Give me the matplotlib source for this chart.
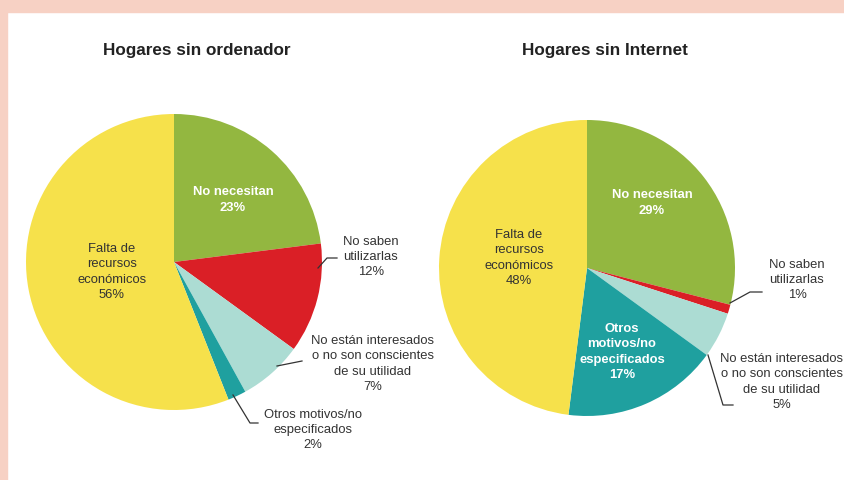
import matplotlib
matplotlib.use("Agg")
import matplotlib.pyplot as plt
from matplotlib.patches import Rectangle

plt.rcParams['font.family'] = ['Liberation Sans', 'DejaVu Sans']

# datos
categorias = ['No necesitan', 'No saben\nutilizarlas',
              'No están interesados\no no son conscientes\nde su utilidad',
              'Otros motivos/no\nespecificados', 'Falta de\nrecursos\neconómicos']
sin_ordenador = [23, 12, 7, 2, 56]
sin_internet = [29, 1, 5, 17, 48]
titulos = ['Hogares sin ordenador', 'Hogares sin Internet']

colores = ['#93B740', '#DA1F26', '#ACDCD3', '#1FA09F', '#F6E14B']
texto = '#333333'

W, H = 845, 480
fig = plt.figure(figsize=(W / 100, H / 100), dpi=100)
fig.patch.set_facecolor('white')
ax = fig.add_axes([0, 0, 1, 1])

def y(py):
    return H - py

# marco rosado
ax.add_patch(Rectangle((0, y(12)), W, 12, color='#F7D1C4', zorder=0))
ax.add_patch(Rectangle((0, 0), 7, H, color='#F7D1C4', zorder=0))

centros = [(174, 262), (587, 268)]
for vals, (cx, cy) in zip([sin_ordenador, sin_internet], centros):
    ax.pie(vals, colors=colores, startangle=90, counterclock=False,
           center=(cx, y(cy)), radius=148,
           wedgeprops=dict(linewidth=0))

ax.set_xlim(0, W)
ax.set_ylim(0, H)
ax.set_aspect('equal')
ax.axis('off')

# títulos
for t, px in zip(titulos, [197, 605]):
    ax.text(px, y(50), t, ha='center', va='center', fontsize=12.3,
            fontweight='bold', color='#222222')

def etiqueta(px, py, s, blanco=False):
    ax.text(px, y(py), s, ha='center', va='center', fontsize=9.4,
            linespacing=1.35, color='white' if blanco else texto,
            fontweight='bold' if blanco else 'normal')

def linea(pts):
    ax.plot([p[0] for p in pts], [y(p[1]) for p in pts], color='#333333',
            linewidth=0.9)

# gráfico 1
etiqueta(233, 200, f'{categorias[0]}\n{sin_ordenador[0]}%', blanco=True)
etiqueta(112, 272, f'{categorias[4]}\n{sin_ordenador[4]}%')
etiqueta(371, 257, f'{categorias[1]}\n{sin_ordenador[1]}%')
etiqueta(373, 364, f'{categorias[2]}\n{sin_ordenador[2]}%')
etiqueta(313, 430, f'{categorias[3]}\n{sin_ordenador[3]}%')
linea([(318, 268), (327, 258), (337, 258)])
linea([(277, 366), (302, 361)])
linea([(233, 395), (250, 423), (258, 423)])

# gráfico 2
etiqueta(652, 203, f'{categorias[0]}\n{sin_internet[0]}%', blanco=True)
etiqueta(519, 258, f'{categorias[4]}\n{sin_internet[4]}%')
etiqueta(622, 352, f'Otros\nmotivos/no\nespecificados\n{sin_internet[3]}%', blanco=True)
etiqueta(797, 280, f'{categorias[1]}\n{sin_internet[1]}%')
etiqueta(782, 382, f'{categorias[2]}\n{sin_internet[2]}%')
linea([(730, 303), (750, 292), (762, 292)])
linea([(708, 355), (723, 405), (733, 405)])

fig.savefig('out.png', dpi=100)
